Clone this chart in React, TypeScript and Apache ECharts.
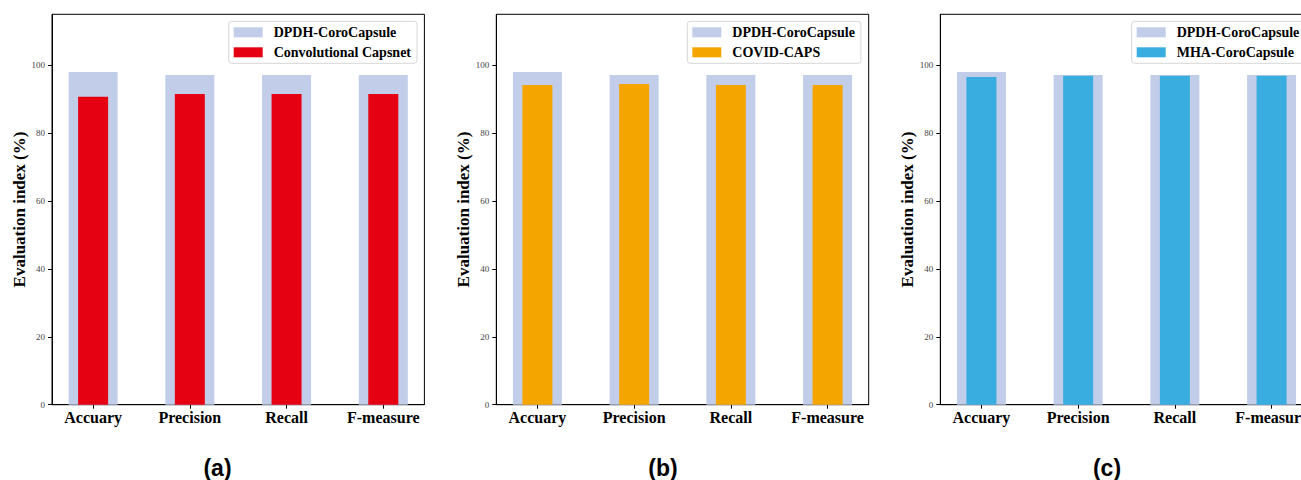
import React, { useEffect, useRef } from "react";
import * as echarts from "echarts";

const categories = ["Accuary", "Precision", "Recall", "F-measure"];
const baseName = "DPDH-CoroCapsule";
const baseValues = [98.0, 97.1, 97.1, 97.1];
const compareNames = ["Convolutional Capsnet", "COVID-CAPS", "MHA-CoroCapsule"];
const capsnetValues = [90.7, 91.5, 91.5, 91.5];
const covidCapsValues = [94.2, 94.5, 94.2, 94.2];
const mhaValues = [96.5, 96.9, 96.9, 96.9];
const compareValues = [capsnetValues, covidCapsValues, mhaValues];
const compareColors = ["#e50012", "#f5a500", "#39ace0"];
const panelTitles = ["(a)", "(b)", "(c)"];
const yTicks = [0, 20, 40, 60, 80, 100];

const SERIF = "'Liberation Serif', 'Times New Roman', serif";
const SANS = "'Liberation Sans', Arial, sans-serif";

const panelLeft = [52, 496.3, 940.3];
const panelTop = 14.3;
const panelW = 372.4;
const panelH = 390.4;
const legendLeft = [228.7, 687.3, 1131.7];
const titleX = [217.5, 663, 1107];

export default function App() {
  const ref = useRef<HTMLDivElement>(null);
  useEffect(() => {
    if (!ref.current) return;
    const chart = echarts.init(ref.current, null, { renderer: "svg" });
    const grids: any[] = [];
    const xAxes: any[] = [];
    const yAxes: any[] = [];
    const series: any[] = [];
    const legends: any[] = [];
    const tickIdx = categories.map((_, i) => i);
    for (let p = 0; p < 3; p++) {
      grids.push({
        left: panelLeft[p],
        top: panelTop,
        width: panelW,
        height: panelH,
        show: true,
        borderColor: "#000",
        borderWidth: 1,
        backgroundColor: "transparent",
      });
      const xBase = {
        type: "value",
        gridIndex: p,
        min: -0.425,
        max: 3.425,
        splitLine: { show: false },
      };
      xAxes.push({
        ...xBase,
        position: "bottom",
        axisLine: { show: true, onZero: false, lineStyle: { color: "#000", width: 1 } },
        axisTick: {
          show: true,
          inside: false,
          length: 4,
          customValues: tickIdx,
          lineStyle: { color: "#000", width: 1 },
        },
        axisLabel: {
          show: true,
          customValues: tickIdx,
          margin: 5,
          formatter: (v: number) => categories[Math.round(v)] ?? "",
          fontFamily: SERIF,
          fontWeight: "bold",
          fontSize: 16,
          color: "#000",
        },
      });
      xAxes.push({ ...xBase, show: false });
      yAxes.push({
        type: "value",
        gridIndex: p,
        min: 0,
        max: 115,
        name: "Evaluation index (%)",
        nameLocation: "middle",
        nameGap: 24.5,
        nameTextStyle: {
          fontFamily: SERIF,
          fontWeight: "bold",
          fontSize: 17,
          color: "#000",
        },
        splitLine: { show: false },
        axisLine: { show: true, onZero: false, lineStyle: { color: "#000", width: 1 } },
        axisTick: {
          show: true,
          inside: false,
          length: 4,
          customValues: yTicks,
          lineStyle: { color: "#000", width: 1 },
        },
        axisLabel: {
          show: true,
          customValues: yTicks,
          margin: 7,
          fontFamily: SERIF,
          fontSize: 9,
          color: "#444",
        },
      });
      series.push({
        type: "bar",
        name: baseName,
        xAxisIndex: p * 2,
        yAxisIndex: p,
        barWidth: 49,
        itemStyle: { color: "#c2cde9" },
        data: baseValues.map((v, i) => [i, v]),
      });
      series.push({
        type: "bar",
        name: compareNames[p],
        xAxisIndex: p * 2 + 1,
        yAxisIndex: p,
        barWidth: 30,
        itemStyle: { color: compareColors[p] },
        data: compareValues[p].map((v, i) => [i, v]),
      });
      legends.push({
        data: [baseName, compareNames[p]],
        orient: "vertical",
        left: legendLeft[p],
        top: 21.3,
        padding: [4, 6, 4, 5],
        itemGap: 6,
        itemWidth: 29,
        itemHeight: 10,
        icon: "rect",
        backgroundColor: "rgba(255,255,255,0.8)",
        borderColor: "#d6d6d6",
        borderWidth: 1,
        borderRadius: 3,
        selectedMode: false,
        textStyle: {
          fontFamily: SERIF,
          fontWeight: "bold",
          fontSize: 14,
          color: "#000",
          padding: [0, 0, 0, 6],
        },
      });
    }
    const graphics = panelTitles.map((t, p) => ({
      type: "text",
      x: titleX[p],
      y: 468,
      style: {
        text: t,
        font: `bold 23px ${SANS}`,
        fill: "#000",
        textAlign: "center",
        textVerticalAlign: "middle",
      },
    }));
    chart.setOption({
      animation: false,
      backgroundColor: "#fff",
      grid: grids,
      xAxis: xAxes,
      yAxis: yAxes,
      series,
      legend: legends,
      graphic: graphics,
    });
    return () => chart.dispose();
  }, []);
  return (
    <div
      style={{
        position: "fixed",
        left: 0,
        top: 0,
        width: 1301,
        height: 480,
        overflow: "hidden",
        background: "#fff",
      }}
    >
      <div ref={ref} style={{ width: 1330, height: 480 }} />
    </div>
  );
}
